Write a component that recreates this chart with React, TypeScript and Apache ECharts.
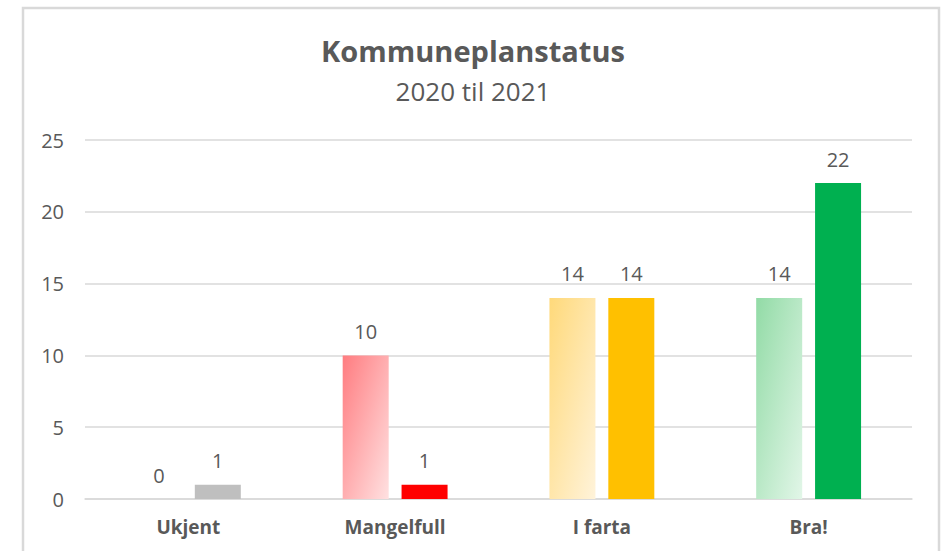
import React, { useEffect, useRef } from "react";
import * as echarts from "echarts";

const categories = ["Ukjent", "Mangelfull", "I farta", "Bra!"];
const values2020 = [0, 10, 14, 14];
const values2021 = [1, 1, 14, 22];
const yTicks = [0, 5, 10, 15, 20, 25];
const colors2021 = ["#bfbfbf", "#ff0000", "#ffc000", "#00b050"];
const gradients2020 = [
  ["#a6a6a6", "#e6e6e6"],
  ["#ff7c80", "#ffe1e1"],
  ["#ffd97a", "#fff3da"],
  ["#92dba6", "#e2f6e8"],
];

const FONT = "'Open Sans', 'Noto Sans', sans-serif";

export default function App() {
  const ref = useRef<HTMLDivElement>(null);
  useEffect(() => {
    if (!ref.current) return;
    const chart = echarts.init(ref.current, null, { renderer: "svg" });
    chart.setOption({
      animation: false,
      backgroundColor: "#ffffff",
      textStyle: { fontFamily: FONT },
      title: [
        {
          text: "Kommuneplanstatus",
          left: "center",
          top: 31,
          textStyle: { fontFamily: FONT, fontSize: 29, fontWeight: "bold", color: "#595959" },
        },
        {
          text: "2020 til 2021",
          left: "center",
          top: 73,
          textStyle: { fontFamily: FONT, fontSize: 26, fontWeight: "normal", color: "#595959" },
        },
      ],
      graphic: [
        {
          type: "rect",
          z: -10,
          silent: true,
          shape: { x: 23, y: 8, width: 916, height: 580 },
          style: { fill: "none", stroke: "#d9d9d9", lineWidth: 2.5 },
        },
      ],
      grid: { left: 85, right: 34, top: 140, bottom: 52, containLabel: false },
      xAxis: {
        type: "category",
        data: categories,
        axisTick: { show: false },
        axisLine: { lineStyle: { color: "#d9d9d9", width: 1.5 } },
        axisLabel: {
          margin: 18,
          fontFamily: FONT,
          fontSize: 19,
          fontWeight: "bold",
          color: "#595959",
        },
      },
      yAxis: {
        type: "value",
        min: yTicks[0],
        max: yTicks[yTicks.length - 1],
        interval: 5,
        axisLine: { show: false },
        axisTick: { show: false },
        splitLine: { lineStyle: { color: "#d9d9d9", width: 1.5 } },
        axisLabel: { margin: 21, fontFamily: FONT, fontSize: 20, color: "#595959" },
      },
      series: [
        {
          name: "2020",
          type: "bar",
          barWidth: 46,
          barGap: "28%",
          data: values2020.map((v, i) => ({
            value: v,
            itemStyle: {
              color: new echarts.graphic.LinearGradient(0, 0, 1, 1, [
                { offset: 0, color: gradients2020[i][0] },
                { offset: 1, color: gradients2020[i][1] },
              ]),
            },
          })),
          label: {
            show: true,
            position: "top",
            distance: 14,
            fontFamily: FONT,
            fontSize: 20,
            color: "#595959",
          },
        },
        {
          name: "2021",
          type: "bar",
          barWidth: 46,
          data: values2021.map((v, i) => ({ value: v, itemStyle: { color: colors2021[i] } })),
          label: {
            show: true,
            position: "top",
            distance: 14,
            fontFamily: FONT,
            fontSize: 20,
            color: "#595959",
          },
        },
      ],
    });
    return () => chart.dispose();
  }, []);
  return (
    <div
      ref={ref}
      style={{ position: "fixed", left: 0, top: 0, width: 946, height: 551 }}
    />
  );
}
